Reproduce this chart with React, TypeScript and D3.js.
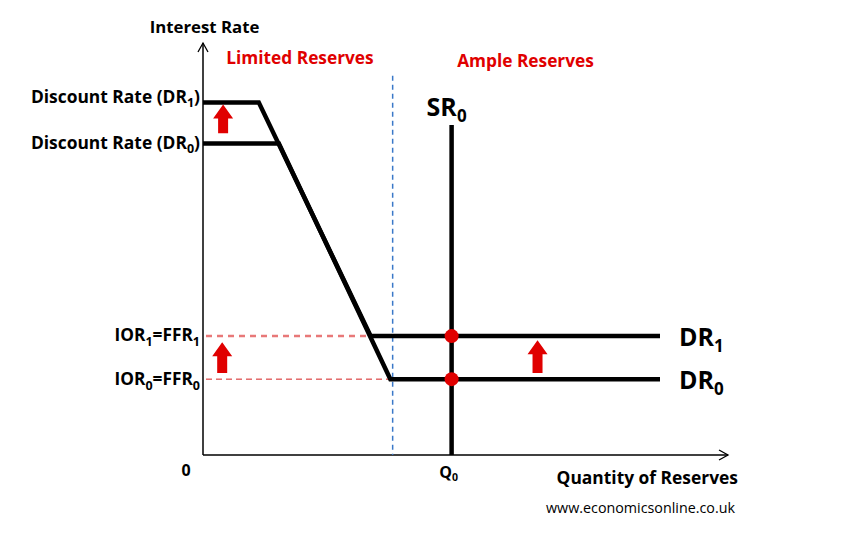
import React from "react";
import * as d3 from "d3";

// chart values (quantity 0..100, rate 0..100)
const rateLevels = { DR1: 86, DR0: 76, IOR1: 29, IOR0: 18.5 };
const demand1 = [
  { q: 0, r: 86 },
  { q: 12.2, r: 86 },
  { q: 36.7, r: 29 },
  { q: 100, r: 29 },
];
const demand0 = [
  { q: 0, r: 76 },
  { q: 16.6, r: 76 },
  { q: 41, r: 18.5 },
  { q: 100, r: 18.5 },
];
const supplyQ = 54.4;
const supplyTop = 80.5;
const regimeBoundaryQ = 41.5;
const regimeBoundaryTop = 92.5;
const equilibria = [
  { q: 54.4, r: 29 },
  { q: 54.4, r: 18.5 },
];
const shiftArrows = [
  { q: 4.4, r0: 78.5, r1: 85.5 },
  { q: 4.2, r0: 20, r1: 27.5 },
  { q: 73.2, r0: 20, r1: 28 },
];

const W = 853;
const H = 535;
const FONT = "'Open Sans', Lato, sans-serif";
const RED = "#e00000";

const x = d3.scaleLinear().domain([0, 100]).range([203, 660]);
const y = d3.scaleLinear().domain([0, 100]).range([455, 45]);

const line = d3
  .line<{ q: number; r: number }>()
  .x((d) => x(d.q))
  .y((d) => y(d.r));

function Arrow({ q, r0, r1 }: { q: number; r0: number; r1: number }) {
  const cx = x(q);
  const yb = y(r0);
  const yt = y(r1);
  const headH = 14;
  const path = [
    [cx - 5, yb],
    [cx - 5, yt + headH],
    [cx - 10, yt + headH],
    [cx, yt],
    [cx + 10, yt + headH],
    [cx + 5, yt + headH],
    [cx + 5, yb],
  ];
  return <path d={d3.line()(path as [number, number][]) + "Z"} fill={RED} />;
}

export default function App() {
  const x0 = x(0);
  const yAxisTop = 43;
  const xAxisEnd = 728;
  return (
    <svg
      width={W}
      height={H}
      style={{ position: "fixed", left: 0, top: 0, background: "#fff" }}
      fontFamily={FONT}
    >
      {/* axes */}
      <line x1={x0} y1={y(0)} x2={x0} y2={yAxisTop} stroke="#000" strokeWidth={1.5} />
      <path d={`M${x0 - 5},${yAxisTop + 9} L${x0},${yAxisTop} L${x0 + 5},${yAxisTop + 9}`} fill="none" stroke="#000" strokeWidth={1.3} />
      <line x1={x0} y1={y(0)} x2={xAxisEnd} y2={y(0)} stroke="#000" strokeWidth={1.5} />
      <path d={`M${xAxisEnd - 9},${y(0) - 5} L${xAxisEnd},${y(0)} L${xAxisEnd - 9},${y(0) + 5}`} fill="none" stroke="#000" strokeWidth={1.3} />

      {/* guide lines */}
      <line x1={x0 + 3} x2={x(demand1[2].q)} y1={y(rateLevels.IOR1)} y2={y(rateLevels.IOR1)} stroke="#e87878" strokeWidth={2.5} strokeDasharray="6 5" />
      <line x1={x0 + 3} x2={x(demand0[2].q)} y1={y(rateLevels.IOR0)} y2={y(rateLevels.IOR0)} stroke="#d42020" strokeWidth={1} strokeDasharray="6 4" />
      <line x1={x(regimeBoundaryQ)} x2={x(regimeBoundaryQ)} y1={y(regimeBoundaryTop)} y2={y(0)} stroke="#3a78c8" strokeWidth={1.5} strokeDasharray="5 4" />

      {/* curves */}
      <path d={line(demand1)!} fill="none" stroke="#000" strokeWidth={4.5} strokeLinejoin="miter" />
      <path d={line(demand0)!} fill="none" stroke="#000" strokeWidth={4.5} strokeLinejoin="miter" />
      <line x1={x(supplyQ)} x2={x(supplyQ)} y1={y(supplyTop)} y2={y(0)} stroke="#000" strokeWidth={4.5} />

      {equilibria.map((d, i) => (
        <circle key={i} cx={x(d.q)} cy={y(d.r)} r={7} fill={RED} />
      ))}
      {shiftArrows.map((a, i) => (
        <Arrow key={i} {...a} />
      ))}

      {/* text */}
      <text x={204.5} y={33} textAnchor="middle" fontSize={16.8} fontWeight="bold">Interest Rate</text>
      <text x={300} y={64} textAnchor="middle" fontSize={17.3} fontWeight="bold" fill={RED}>Limited Reserves</text>
      <text x={525.5} y={67} textAnchor="middle" fontSize={17.3} fontWeight="bold" fill={RED}>Ample Reserves</text>

      <text x={x0 - 3} y={y(rateLevels.DR1) + 1} textAnchor="end" fontSize={17.4} fontWeight="bold">
        Discount Rate (DR<tspan fontSize="12.5" dy="4">1</tspan>
        <tspan dy="-4">)</tspan>
      </text>
      <text x={x0 - 3} y={y(rateLevels.DR0) + 6} textAnchor="end" fontSize={17.4} fontWeight="bold">
        Discount Rate (DR<tspan fontSize="12.5" dy="4">0</tspan>
        <tspan dy="-4">)</tspan>
      </text>

      <text x={x0 - 3} y={y(rateLevels.IOR1) + 5} textAnchor="end" fontSize={17.3} fontWeight="bold">
        IOR<tspan fontSize="12.5" dy="5">1</tspan>
        <tspan dy="-5">=FFR</tspan>
        <tspan fontSize="12.5" dy="5">1</tspan>
      </text>
      <text x={x0 - 3} y={y(rateLevels.IOR0) + 6} textAnchor="end" fontSize={17.3} fontWeight="bold">
        IOR<tspan fontSize="12.5" dy="5">0</tspan>
        <tspan dy="-5">=FFR</tspan>
        <tspan fontSize="12.5" dy="5">0</tspan>
      </text>

      <text x={x(100) + 19} y={y(rateLevels.IOR1) + 10} fontSize={25} fontWeight="bold">
        DR<tspan fontSize="17" dy="6">1</tspan>
      </text>
      <text x={x(100) + 19} y={y(rateLevels.IOR0) + 10} fontSize={25} fontWeight="bold">
        DR<tspan fontSize="17" dy="6">0</tspan>
      </text>
      <text x={x(supplyQ) - 25} y={116} fontSize={25} fontWeight="bold">
        SR<tspan fontSize="17" dy="6">0</tspan>
      </text>

      <text x={186} y={476} textAnchor="middle" fontSize={16} fontWeight="bold">0</text>
      <text x={x(supplyQ) - 3} y={478} textAnchor="middle" fontSize={16} fontWeight="bold">
        Q<tspan fontSize="10.5" dy="3">0</tspan>
      </text>
      <text x={738} y={484} textAnchor="end" fontSize={17.4} fontWeight="bold">Quantity of Reserves</text>
      <text x={735} y={513} textAnchor="end" fontSize={14.3}>www.economicsonline.co.uk</text>
    </svg>
  );
}
